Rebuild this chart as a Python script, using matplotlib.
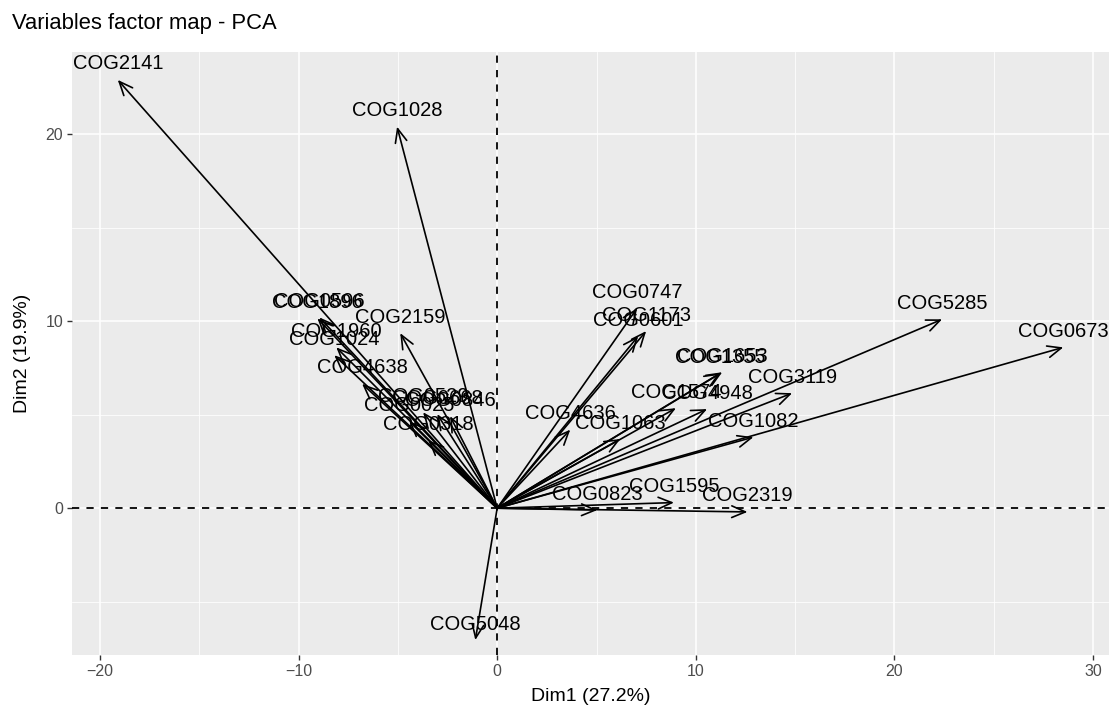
import matplotlib
matplotlib.use("Agg")
import matplotlib.pyplot as plt
import numpy as np

plt.rcParams['font.family'] = ['Liberation Sans', 'DejaVu Sans']

# variable coordinates on Dim1 / Dim2
names = ["COG2141", "COG1028", "COG1896", "COG0596", "COG2159", "COG1960", "COG1024",
         "COG4638", "COG0529", "COG0668", "COG0846", "COG0025", "COG0318", "COG5048",
         "COG0747", "COG1173", "COG0601", "COG1355", "COG1653", "COG1574", "COG4948",
         "COG4636", "COG1063", "COG3119", "COG1082", "COG5285", "COG0673",
         "COG0823", "COG1595", "COG2319"]
dim1 = np.array([-19.1, -5.04, -9.05, -8.95, -4.88, -8.1, -8.2,
                 -6.8, -3.73, -3.02, -2.37, -4.43, -3.47, -1.1,
                 7.05, 7.5, 7.1, 11.23, 11.33, 9.0, 10.57,
                 3.68, 6.2, 14.85, 12.9, 22.4, 28.5,
                 5.04, 8.9, 12.6])
dim2 = np.array([22.9, 20.4, 10.15, 10.2, 9.36, 8.6, 8.18,
                 6.65, 5.13, 5.03, 4.92, 4.65, 3.64, -7.05,
                 10.7, 9.47, 9.2, 7.22, 7.27, 5.35, 5.3,
                 4.2, 3.7, 6.15, 3.8, 10.1, 8.6,
                 -0.1, 0.3, -0.2])

title = "Variables factor map - PCA"
xlabel = "Dim1 (27.2%)"
ylabel = "Dim2 (19.9%)"

fig = plt.figure(figsize=(11.09, 7.2), dpi=100)
ax = fig.add_axes([0.065, 0.090, 0.935, 0.838])
ax.set_facecolor("#EBEBEB")
ax.set_xlim(-21.4, 30.8)
ax.set_ylim(-7.86, 24.4)

ax.set_xticks([-20, -10, 0, 10, 20, 30])
ax.set_yticks([0, 10, 20])
ax.set_xticks([-15, -5, 5, 15, 25], minor=True)
ax.set_yticks([-5, 5, 15], minor=True)
ax.grid(which="major", color="white", lw=1.1)
ax.grid(which="minor", color="white", lw=0.55)
ax.set_axisbelow(True)
for s in ax.spines.values():
    s.set_visible(False)
ax.tick_params(which="major", length=3.5, width=1, color="#333333",
               labelcolor="#4D4D4D", labelsize=11.5, pad=3)
ax.tick_params(which="minor", length=0)

ax.axhline(0, color="black", ls=(0, (4, 4)), lw=1.3, zorder=2)
ax.axvline(0, color="black", ls=(0, (4, 4)), lw=1.3, zorder=2)

for n, x, y in zip(names, dim1, dim2):
    ax.annotate("", xy=(x, y), xytext=(0, 0),
                arrowprops=dict(arrowstyle="->,head_length=0.7,head_width=0.3",
                                lw=1.2, color="black", shrinkA=0, shrinkB=0,
                                mutation_scale=14), zorder=3)
    ax.annotate(n, xy=(x, y), xytext=(0, 11.5), textcoords="offset points",
                ha="center", va="center", fontsize=14.5, color="black", zorder=4)

ax.set_xlabel(xlabel, fontsize=14, labelpad=6)
ax.set_ylabel(ylabel, fontsize=14, labelpad=10)
fig.text(0.011, 0.968, title, fontsize=15.8, ha="left", va="center")

fig.savefig("out.png", dpi=100)
